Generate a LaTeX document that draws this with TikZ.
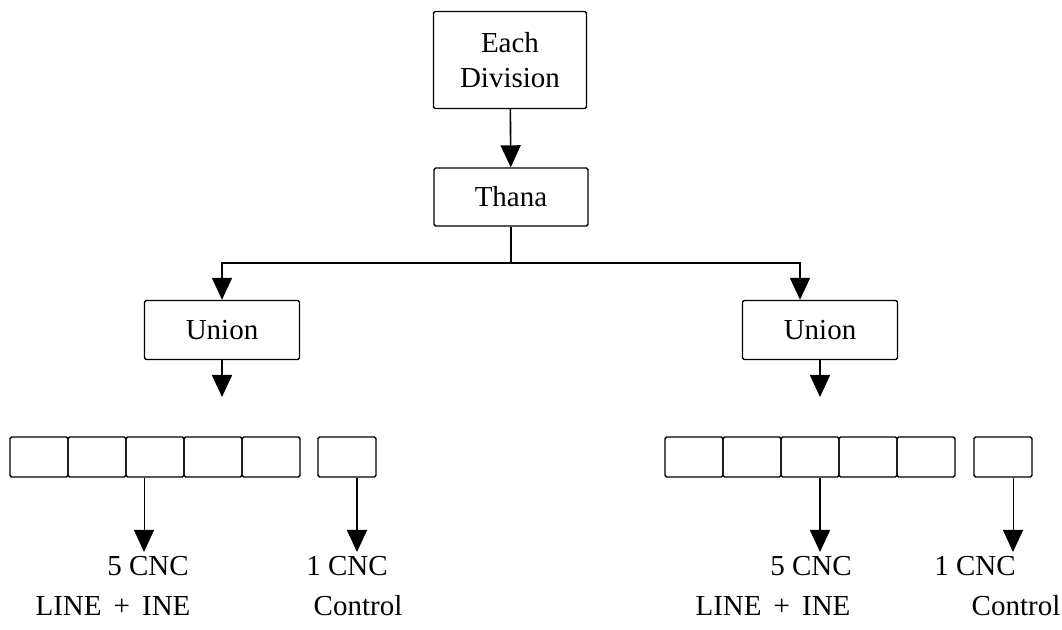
\documentclass[tikz,border=0pt]{standalone}
\usepackage{fontspec}
\setmainfont{Liberation Serif}
\usetikzlibrary{arrows.meta}
\begin{document}
\begin{tikzpicture}[x=0.5pt, y=-0.5pt]
  \useasboundingbox (0,0) rectangle (1062,630);  % page frame

  \tikzstyle{box}=[draw, line width=0.7pt, inner sep=0pt, rounded corners=0.8pt, align=center, font=\fontsize{14.5}{17.5}\selectfont]
  \tikzstyle{cell}=[draw, line width=0.7pt, inner sep=0pt, rounded corners=0.8pt, minimum width=29pt, minimum height=20pt]
  \tikzstyle{label}=[inner sep=0pt, font=\fontsize{14.5}{17.5}\selectfont]
  \tikzstyle{arr}=[-{Triangle[length=11pt, width=10pt]}, line width=0.8pt]
  \tikzstyle{thinarr}=[-{Triangle[length=11pt, width=10pt]}, line width=0.5pt]

  \node[box, minimum width=76.5pt, minimum height=48.5pt] (div)   at (510, 60)  {Each\\Division};
  \node[box, minimum width=77pt, minimum height=29pt]     (thana) at (511, 197) {Thana};
  \node[box, minimum width=77.5pt, minimum height=29.5pt] (unionL) at (222, 330) {Union};
  \node[box, minimum width=77.5pt, minimum height=29.5pt] (unionR) at (820, 330) {Union};

  % Zellen
  \foreach \i/\x in {1/39, 2/97, 3/155, 4/213, 5/271}
    \node[cell] (l\i) at (\x, 457) {};
  \node[cell] (lc) at (347, 457) {};
  \foreach \i/\x in {1/694, 2/752, 3/810, 4/868, 5/926}
    \node[cell] (r\i) at (\x, 457) {};
  \node[cell] (rc) at (1003, 457) {};

  \node[label] (l5cnc)  at (148, 566) {5 CNC};
  \node[label] (lline)  at (113, 606) {LINE\,\ +\ \,INE};
  \node[label] (l1cnc)  at (347, 566) {1 CNC};
  \node[label] (lctrl)  at (358, 606) {Control};
  \node[label] (r5cnc)  at (811, 566) {5 CNC};
  \node[label] (rline)  at (773, 606) {LINE\,\ +\ \,INE};
  \node[label] (r1cnc)  at (975, 566) {1 CNC};
  \node[label] (rctrl)  at (1016, 606) {Control};

  \coordinate (split) at (511, 263);
  \coordinate (uL) at (222, 397);
  \coordinate (uR) at (820, 397);
  \coordinate (aL5) at (144, 552);
  \coordinate (aLc) at (357, 552);
  \coordinate (aR5) at (820, 552);
  \coordinate (aRc) at (1013, 552);

  \draw[arr] (div) -- (thana);
  \draw[line width=0.8pt] (thana) -- (split);
  \draw[arr] (split) -| (unionL);
  \draw[arr] (split) -| ([xshift=-10pt]unionR.north);
  \draw[arr] (unionL) -- (uL);
  \draw[arr] (unionR) -- (uR);

  \draw[thinarr] (l3.south -| aL5) -- (aL5);
  \draw[arr] (lc.south -| aLc) -- (aLc);
  \draw[arr] (r3.south -| aR5) -- (aR5);
  \draw[thinarr] (rc.south -| aRc) -- (aRc);
\end{tikzpicture}
\end{document}
